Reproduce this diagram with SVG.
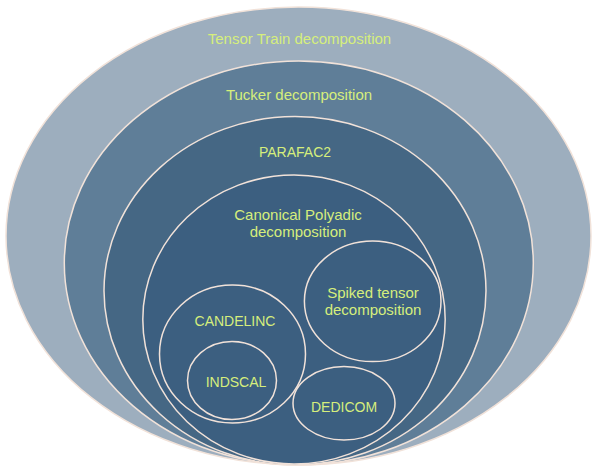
<svg xmlns="http://www.w3.org/2000/svg" width="592" height="466" viewBox="0 0 592 466">
<style>
.sh{stroke:#f1e2d9;stroke-width:1.5}
.t{font-family:"Liberation Sans",Arial,sans-serif;font-size:15px;fill:#d6ee7c;text-anchor:middle}
.c{font-size:14px}
</style>
<rect width="592" height="466" fill="#ffffff"/>
<g id="tensor-train">
<ellipse class="sh" cx="298.5" cy="236" rx="292.5" ry="229" fill="#9daebe" stroke="#f3d6c8"/>
<text class="t" x="299.5" y="44">Tensor Train decomposition</text>
</g>
<g id="tucker">
<ellipse class="sh" cx="298.8" cy="263" rx="234.5" ry="202" fill="#5f7e98"/>
<text class="t" x="299" y="100">Tucker decomposition</text>
</g>
<g id="parafac2">
<ellipse class="sh" cx="295" cy="290.8" rx="191" ry="174.2" fill="#456784"/>
<text class="t c" x="295" y="157">PARAFAC2</text>
</g>
<g id="cp">
<ellipse class="sh" cx="294" cy="319.5" rx="151.2" ry="144.5" fill="#3c5f80"/>
<text class="t" x="298" y="220">Canonical Polyadic</text>
<text class="t" x="298" y="237">decomposition</text>
</g>
<g id="spiked">
<ellipse class="sh" cx="372.7" cy="301.3" rx="68.3" ry="60.3" fill="#3c5f80"/>
<text class="t" x="373" y="298">Spiked tensor</text>
<text class="t" x="373" y="315">decomposition</text>
</g>
<g id="candelinc">
<ellipse class="sh" cx="232.5" cy="354" rx="73" ry="69" fill="#3c5f80"/>
<text class="t c" x="235" y="326">CANDELINC</text>
</g>
<g id="indscal">
<ellipse class="sh" cx="232" cy="380.5" rx="44.5" ry="39" fill="#3c5f80"/>
<text class="t c" x="236" y="387">INDSCAL</text>
</g>
<g id="dedicom">
<ellipse class="sh" cx="344" cy="403.3" rx="51" ry="36.7" fill="#3c5f80"/>
<text class="t c" x="344" y="412">DEDICOM</text>
</g>
</svg>
